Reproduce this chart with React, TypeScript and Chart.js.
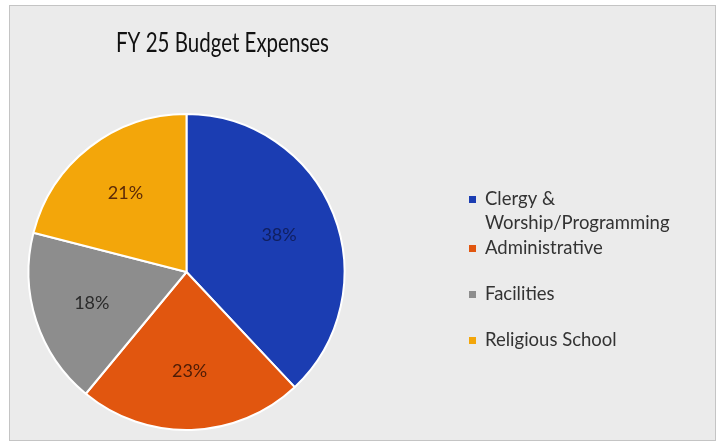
import React, { useEffect, useRef } from "react";
import { Chart, registerables } from "chart.js";

Chart.register(...registerables);

const TITLE = "FY 25 Budget Expenses";
const categories = [
  "Clergy & Worship/Programming",
  "Administrative",
  "Facilities",
  "Religious School",
];
const legendLines = [
  ["Clergy &", "Worship/Programming"],
  ["Administrative"],
  ["Facilities"],
  ["Religious School"],
];
const values = [38, 23, 18, 21];
const sliceColors = ["#1b3db2", "#e1560f", "#8d8d8d", "#f3a60a"];
const labelColors = ["#101f60", "#4d1c06", "#2b2b2b", "#5c2a08"];

const FONT = "Lato, 'Open Sans', sans-serif";

const overlayPlugin = {
  id: "overlay",
  afterDatasetsDraw(chart: any) {
    const ctx = chart.ctx as CanvasRenderingContext2D;
    const meta = chart.getDatasetMeta(0);
    const total = values.reduce((a, b) => a + b, 0);
    ctx.save();
    // slice labels
    ctx.font = `18px ${FONT}`;
    ctx.textAlign = "center";
    ctx.textBaseline = "middle";
    meta.data.forEach((arc: any, i: number) => {
      const p = arc.getProps(["x", "y", "startAngle", "endAngle", "outerRadius"], true);
      const mid = (p.startAngle + p.endAngle) / 2;
      const r = p.outerRadius * 0.63;
      ctx.fillStyle = labelColors[i];
      ctx.fillText(
        Math.round((values[i] / total) * 100) + "%",
        p.x + Math.cos(mid) * r,
        p.y + Math.sin(mid) * r
      );
    });
    // title (condensed to match the original's narrow face)
    ctx.textAlign = "left";
    ctx.textBaseline = "alphabetic";
    ctx.fillStyle = "#111111";
    ctx.font = `27px ${FONT}`;
    const w = ctx.measureText(TITLE).width;
    const targetW = 213;
    ctx.save();
    ctx.translate(116, 52);
    ctx.scale(targetW / w, 1);
    ctx.fillText(TITLE, 0, 0);
    ctx.restore();
    // legend
    ctx.font = `18.5px ${FONT}`;
    ctx.textBaseline = "middle";
    const lineH = 24.5;
    const minSlot = 46;
    let y = 199;
    legendLines.forEach((lines, i) => {
      ctx.fillStyle = sliceColors[i];
      ctx.fillRect(469, y - 3, 7, 7);
      ctx.fillStyle = "#333333";
      lines.forEach((t, k) => ctx.fillText(t, 485, y + k * lineH));
      y += Math.max(lines.length * lineH, minSlot);
    });
    ctx.restore();
  },
};

export default function App() {
  const ref = useRef<HTMLCanvasElement>(null);
  useEffect(() => {
    if (!ref.current) return;
    const chart = new Chart(ref.current, {
      type: "pie",
      data: {
        labels: categories,
        datasets: [
          {
            data: values,
            backgroundColor: sliceColors,
            borderColor: "#ffffff",
            borderWidth: 2,
          },
        ],
      },
      options: {
        responsive: false,
        animation: false,
        layout: { padding: { left: 27, top: 113, right: 377, bottom: 15 } },
        plugins: {
          legend: { display: false },
          title: { display: false },
          tooltip: { enabled: false },
        },
      },
      plugins: [overlayPlugin],
    });
    return () => chart.destroy();
  }, []);
  return (
    <div style={{ position: "absolute", left: 0, top: 0, width: 723, height: 446, background: "#ffffff" }}>
      <div
        style={{
          position: "absolute",
          left: 9,
          top: 5,
          width: 705,
          height: 434,
          background: "#ebebeb",
          border: "1px solid #c4c4c4",
        }}
      />
      <canvas
        ref={ref}
        width={723}
        height={446}
        style={{ position: "absolute", left: 0, top: 0, width: 723, height: 446 }}
      />
    </div>
  );
}
